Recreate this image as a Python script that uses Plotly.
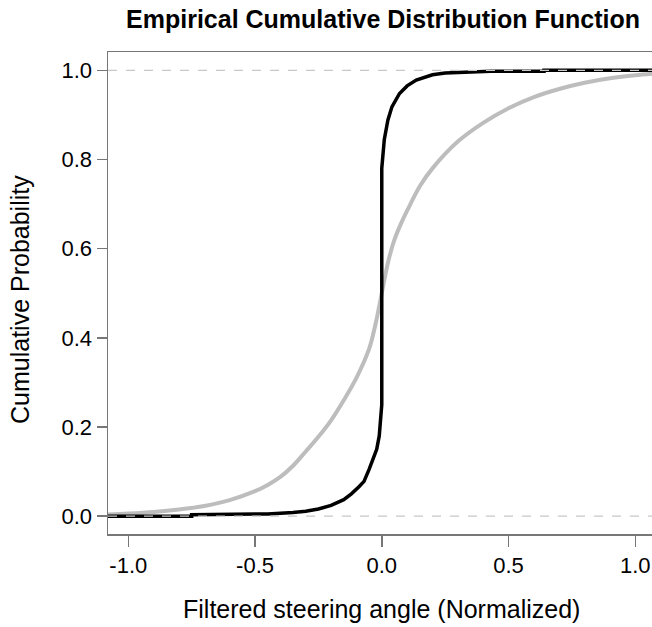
import plotly.graph_objects as go

# Gray curve (smooth reference CDF)
gray_x = [-1.08, -1.0, -0.9, -0.8, -0.7, -0.6, -0.5, -0.45, -0.4, -0.35, -0.3, -0.25, -0.2, -0.15, -0.1,
          -0.05, -0.025, 0.0, 0.025, 0.05, 0.075, 0.1, 0.15, 0.2, 0.3, 0.4, 0.5, 0.6, 0.7, 0.8, 0.9,
          1.0, 1.08]
gray_y = [0.004, 0.006, 0.0095, 0.015, 0.023, 0.036, 0.056, 0.07, 0.088, 0.113, 0.145, 0.178, 0.215,
          0.26, 0.31, 0.375, 0.43, 0.5, 0.57, 0.62, 0.655, 0.685, 0.74, 0.78, 0.84, 0.882, 0.915,
          0.94, 0.958, 0.972, 0.982, 0.989, 0.993]

# Black curve (empirical CDF of filtered steering angle)
black_x = [-1.08, -0.75, -0.75, -0.45, -0.35, -0.3, -0.25, -0.2, -0.15, -0.12, -0.09, -0.07, -0.05,
           -0.035, -0.02, -0.01, -0.005, 0.0, 0.0, 0.005, 0.01, 0.024, 0.04, 0.07, 0.1, 0.136, 0.2,
           0.25, 0.33, 0.43, 0.64, 0.64, 1.08]
black_y = [0.0, 0.0, 0.003, 0.005, 0.008, 0.011, 0.016, 0.024, 0.037, 0.05, 0.066, 0.078, 0.105,
           0.126, 0.15, 0.18, 0.22, 0.25, 0.78, 0.82, 0.845, 0.888, 0.918, 0.948, 0.965, 0.978, 0.99,
           0.994, 0.996, 0.998, 0.998, 1.0, 1.0]

x_ticks = [-1.0, -0.5, 0.0, 0.5, 1.0]
x_ticklabels = ["-1.0", "-0.5", "0.0", "0.5", "1.0"]
y_ticks = [0.0, 0.2, 0.4, 0.6, 0.8, 1.0]
y_ticklabels = ["0.0", "0.2", "0.4", "0.6", "0.8", "1.0"]
ref_levels = [0.0, 1.0]

FONT = "Liberation Sans, Arial, sans-serif"
AX = "#777777"
W, H = 652, 627
L, R, T, B = 108, 0, 52, 93
PW, PH = W - L - R, H - T - B

fig = go.Figure()
fig.add_trace(go.Scatter(x=gray_x, y=gray_y, mode="lines",
                         line=dict(color="#bdbdbd", width=4, shape="spline", smoothing=1.0),
                         showlegend=False, hoverinfo="skip"))
fig.add_trace(go.Scatter(x=black_x, y=black_y, mode="lines",
                         line=dict(color="#000000", width=3.5),
                         showlegend=False, hoverinfo="skip"))

for lv in ref_levels:
    fig.add_shape(type="line", xref="paper", x0=0, x1=1, yref="y", y0=lv, y1=lv,
                  line=dict(color="#c8c8c8", width=1.3, dash="dash"), layer="above")

# axis titles as annotations for precise placement
fig.add_annotation(text="Filtered steering angle (Normalized)", xref="paper", yref="paper",
                   x=(381.7 - L) / PW, y=(H - B - 609) / PH,
                   xanchor="center", yanchor="middle",
                   showarrow=False, font=dict(size=25, family=FONT, color="black"))
fig.add_annotation(text="Cumulative Probability", xref="paper", yref="paper",
                   x=(20 - L) / PW, y=(H - B - 300) / PH,
                   xanchor="center", yanchor="middle",
                   textangle=-90, showarrow=False, font=dict(size=25, family=FONT, color="black"))

fig.update_layout(
    width=W, height=H,
    margin=dict(l=L, r=R, t=T, b=B, autoexpand=False),
    paper_bgcolor="white", plot_bgcolor="white",
    font=dict(family=FONT, color="black"),
    hovermode=False,
    title=dict(text="<b>Empirical Cumulative Distribution Function</b>",
               font=dict(size=25, family=FONT, color="black"),
               x=383 / W, xref="container", xanchor="center",
               y=1 - 19 / H, yref="container", yanchor="middle"),
    xaxis=dict(range=[-1.08, 1.066], tickvals=x_ticks, ticktext=x_ticklabels,
               showgrid=False, zeroline=False, showline=True, linecolor=AX, linewidth=1.5,
               mirror=True, ticks="outside", ticklen=11, tickwidth=1.5, tickcolor=AX,
               tickfont=dict(size=22), automargin=False),
    yaxis=dict(range=[-0.04, 1.041], tickvals=y_ticks, ticktext=y_ticklabels,
               showgrid=False, zeroline=False, showline=True, linecolor=AX, linewidth=1.5,
               ticks="outside", ticklen=10, tickwidth=1.5, tickcolor=AX,
               tickfont=dict(size=22), automargin=False),
)

fig.write_html("out.html", config={"displayModeBar": False, "staticPlot": True},
               post_script="document.body.style.margin='0';document.body.style.overflow='hidden';")
